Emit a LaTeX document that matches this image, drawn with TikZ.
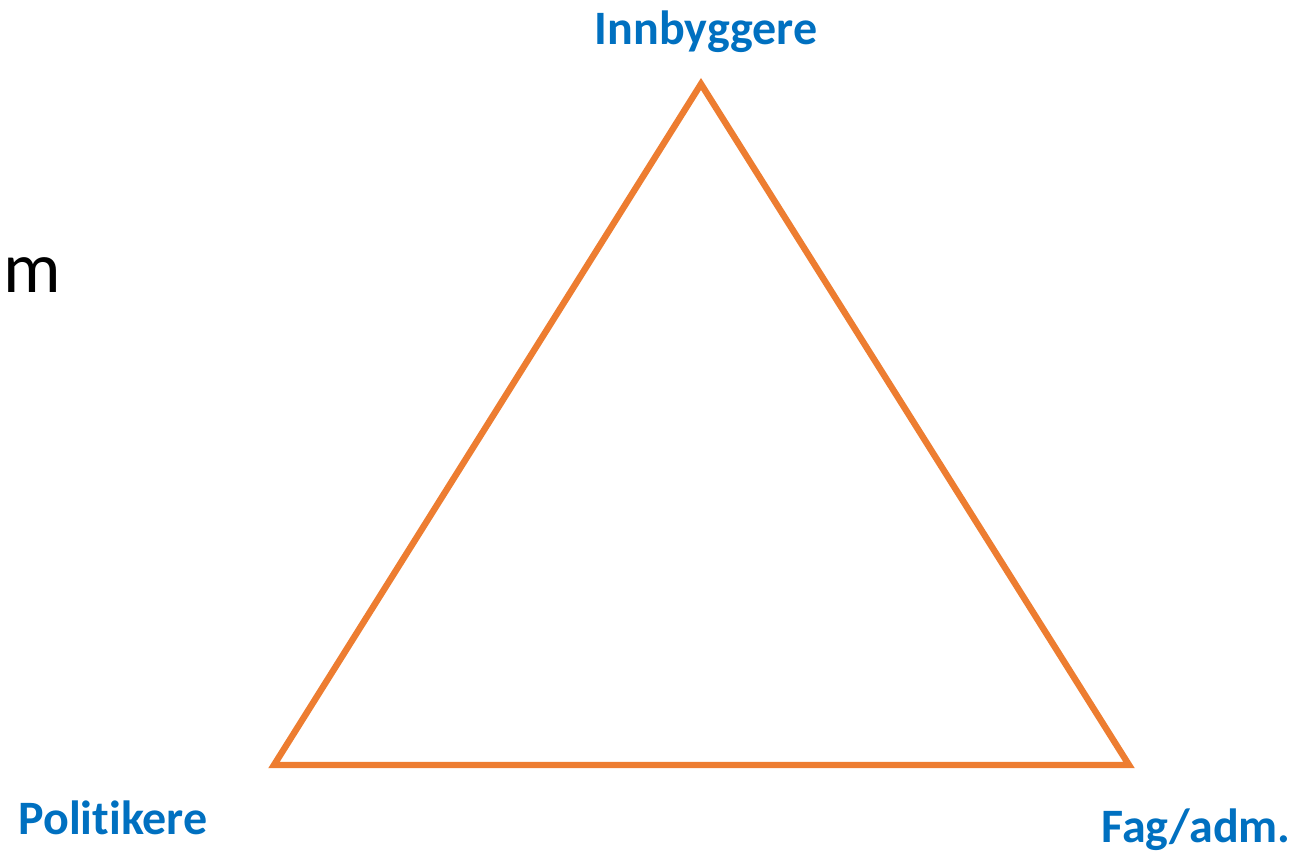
\documentclass[tikz,border=0pt]{standalone}
\usepackage{fontspec}
\setmainfont[Ligatures={NoCommon,NoRare}]{Carlito}
\definecolor{triorange}{HTML}{ED7D31}
\definecolor{labelblue}{HTML}{0070C0}
\begin{document}
\begin{tikzpicture}[x=0.5pt,y=-0.5pt,
  lbl/.style={text=labelblue,font=\bfseries\fontsize{24}{28}\selectfont,inner sep=0pt},
  tri/.style={draw=triorange,line width=3.2pt,line join=miter}]
\useasboundingbox (0,0) rectangle (1298,852);
\coordinate (T) at (701,84);
\coordinate (L) at (274,765);
\coordinate (R) at (1129,765);
\draw[tri] (T) -- (L) -- (R) -- cycle;
\node[lbl] (inn) at (706,32) {Innbyggere};
\node[lbl] (pol) at (113,818) {Politikere};
\node[lbl] (fag) at (1196,830) {Fag/adm.};
\node[inner sep=0pt,font=\fontsize{36}{40}\selectfont,anchor=base] (m) at (32,292) {m};
\end{tikzpicture}
\end{document}
